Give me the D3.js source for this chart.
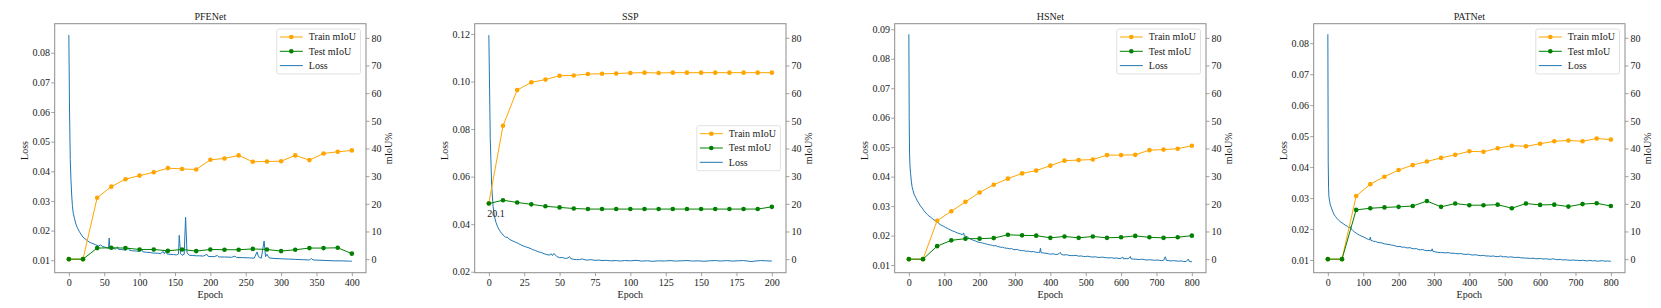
<!DOCTYPE html>
<html>
<head>
<meta charset="utf-8">
<script src="https://cdn.jsdelivr.net/npm/d3@7"></script>
<style>
  html, body { margin: 0; padding: 0; background: #fff; }
  svg { display: block; }
  text { font-family: "Liberation Serif", "Times New Roman", serif; fill: #1a1a1a; }
</style>
</head>
<body>
<div id="chart"></div>
<script>
// ---- data ----
const titles = ['PFENet', 'SSP', 'HSNet', 'PATNet'];
const seriesNames = ['Train mIoU', 'Test mIoU', 'Loss'];

// PFENet
const pfenetEpochs = [0, 20, 40, 60, 80, 100, 120, 140, 160, 180, 200, 220, 240, 260, 280, 300, 320, 340, 360, 380, 400];
const pfenetTrain = [0, 0, 22.2, 26.2, 28.9, 30.2, 31.4, 32.9, 32.6, 32.4, 35.9, 36.4, 37.5, 35.2, 35.3, 35.4, 37.5, 35.8, 38.2, 38.8, 39.3];
const pfenetTest = [0, 0, 4.0, 4.1, 4.0, 3.5, 3.5, 3.0, 3.5, 2.9, 3.5, 3.4, 3.4, 3.7, 3.5, 2.9, 3.4, 4.0, 4.0, 4.1, 2.0];
const pfenetLossEpochs = [0, 1, 2, 3, 4, 5, 6, 8, 10, 12, 15, 18, 20, 23, 26, 30, 34, 38, 42, 45, 47, 50, 54, 56, 57, 58, 62, 66, 69, 70, 75, 80, 84, 86, 90, 95, 100, 103, 105, 110, 115, 120, 125, 130, 133, 135, 137, 139, 143, 148, 152, 155, 156, 158, 160, 163, 165, 167, 170, 175, 180, 185, 190, 195, 197, 205, 210, 212, 220, 230, 235, 237, 245, 255, 262, 266, 268, 272, 276, 278, 280, 283, 290, 300, 310, 320, 330, 340, 343, 345, 355, 365, 375, 385, 395, 400];
const pfenetLoss = [0.0860, 0.0600, 0.0440, 0.0370, 0.0320, 0.0285, 0.0262, 0.0240, 0.0222, 0.0210, 0.0196, 0.0185, 0.0178, 0.0172, 0.0166, 0.0160, 0.0156, 0.0152, 0.0148, 0.0152, 0.0147, 0.0145, 0.0142, 0.0140, 0.0175, 0.0141, 0.0140, 0.0138, 0.0145, 0.0137, 0.0136, 0.0134, 0.0141, 0.0133, 0.0132, 0.0131, 0.0130, 0.0136, 0.0128, 0.0127, 0.0126, 0.0124, 0.0124, 0.0122, 0.0130, 0.0122, 0.0131, 0.0121, 0.0120, 0.0119, 0.0118, 0.0121, 0.0184, 0.0122, 0.0117, 0.0120, 0.0245, 0.0125, 0.0117, 0.0116, 0.0115, 0.0115, 0.0114, 0.0120, 0.0113, 0.0112, 0.0116, 0.0111, 0.0111, 0.0110, 0.0114, 0.0109, 0.0109, 0.0108, 0.0107, 0.0128, 0.0112, 0.0107, 0.0165, 0.0112, 0.0120, 0.0108, 0.0106, 0.0105, 0.0104, 0.0103, 0.0102, 0.0101, 0.0106, 0.0101, 0.0100, 0.0099, 0.0098, 0.0098, 0.0097, 0.0097];

// SSP
const sspEpochs = [0, 10, 20, 30, 40, 50, 60, 70, 80, 90, 100, 110, 120, 130, 140, 150, 160, 170, 180, 190, 200];
const sspTrain = [20.2, 48.2, 61.1, 63.9, 64.9, 66.3, 66.4, 66.9, 67.0, 67.1, 67.3, 67.4, 67.3, 67.4, 67.4, 67.4, 67.4, 67.4, 67.4, 67.4, 67.4];
const sspTest = [20.1, 21.3, 20.5, 19.8, 19.1, 18.7, 18.3, 18.1, 18.1, 18.1, 18.1, 18.1, 18.1, 18.1, 18.1, 18.1, 18.1, 18.1, 18.1, 18.1, 18.9];
const sspLossEpochs = [0, 1, 2, 3, 4, 5, 6, 7, 8, 9, 10, 11, 12, 13, 14, 15, 17, 19, 21, 23, 25, 27, 29, 31, 33, 35, 37, 39, 41, 43, 44, 45, 46, 48, 50, 52, 54, 56, 57, 58, 60, 62, 64, 66, 68, 70, 72, 75, 78, 80, 83, 86, 90, 93, 96, 100, 104, 108, 112, 116, 120, 124, 128, 132, 136, 140, 144, 148, 152, 156, 160, 164, 168, 172, 176, 180, 184, 186, 188, 192, 196, 200];
const sspLoss = [0.1195, 0.0760, 0.0560, 0.0475, 0.0432, 0.0408, 0.0392, 0.0380, 0.0370, 0.0362, 0.0355, 0.0350, 0.0344, 0.0346, 0.0339, 0.0335, 0.0329, 0.0324, 0.0318, 0.0312, 0.0307, 0.0303, 0.0299, 0.0293, 0.0289, 0.0284, 0.0281, 0.0276, 0.0272, 0.0270, 0.0276, 0.0268, 0.0277, 0.0264, 0.0259, 0.0260, 0.0256, 0.0258, 0.0264, 0.0255, 0.0252, 0.0251, 0.0251, 0.0254, 0.0250, 0.0249, 0.0251, 0.0248, 0.0249, 0.0247, 0.0248, 0.0246, 0.0247, 0.0245, 0.0247, 0.0246, 0.0248, 0.0245, 0.0246, 0.0244, 0.0246, 0.0245, 0.0247, 0.0245, 0.0246, 0.0247, 0.0245, 0.0246, 0.0244, 0.0246, 0.0247, 0.0245, 0.0247, 0.0245, 0.0246, 0.0247, 0.0244, 0.0243, 0.0245, 0.0247, 0.0246, 0.0245];

// HSNet
const hsnetEpochs = [0, 40, 80, 120, 160, 200, 240, 280, 320, 360, 400, 440, 480, 520, 560, 600, 640, 680, 720, 760, 800];
const hsnetTrain = [0, 0, 13.9, 17.3, 20.7, 24.1, 26.9, 29.1, 31.0, 32.0, 33.8, 35.6, 35.8, 36.0, 37.6, 37.6, 37.7, 39.4, 39.6, 39.9, 41.0];
const hsnetTest = [0, 0, 4.7, 6.8, 7.4, 7.4, 7.6, 8.8, 8.6, 8.5, 7.7, 8.2, 7.7, 8.2, 7.7, 7.9, 8.4, 7.9, 7.7, 7.9, 8.5];
const hsnetLossEpochs = [0, 1, 2, 3, 5, 7, 9, 12, 15, 19, 24, 28, 33, 38, 43, 48, 52, 57, 62, 66, 71, 76, 80, 85, 89, 94, 99, 104, 109, 113, 118, 123, 128, 132, 137, 142, 147, 151, 155, 156, 160, 165, 170, 175, 180, 185, 190, 193, 198, 203, 208, 213, 218, 222, 227, 231, 236, 241, 246, 250, 255, 260, 265, 270, 278, 285, 290, 295, 300, 307, 312, 318, 325, 330, 338, 345, 352, 360, 366, 370, 372, 374, 380, 388, 395, 400, 408, 414, 419, 425, 428, 431, 438, 446, 452, 459, 466, 472, 480, 487, 494, 500, 506, 513, 520, 527, 534, 541, 548, 555, 560, 566, 573, 580, 587, 594, 600, 605, 607, 614, 620, 626, 628, 635, 642, 648, 654, 660, 667, 674, 680, 688, 694, 701, 708, 715, 720, 725, 728, 735, 742, 748, 755, 762, 770, 777, 784, 790, 793, 800];
const hsnetLoss = [0.0883, 0.0600, 0.0480, 0.0440, 0.0410, 0.0385, 0.0366, 0.0352, 0.0340, 0.0330, 0.0318, 0.0310, 0.0300, 0.0293, 0.0284, 0.0277, 0.0272, 0.0266, 0.0262, 0.0258, 0.0253, 0.0250, 0.0246, 0.0241, 0.0237, 0.0234, 0.0231, 0.0227, 0.0225, 0.0222, 0.0219, 0.0216, 0.0214, 0.0212, 0.0209, 0.0207, 0.0205, 0.0203, 0.0209, 0.0201, 0.0198, 0.0196, 0.0191, 0.0188, 0.0185, 0.0183, 0.0181, 0.0179, 0.0177, 0.0176, 0.0175, 0.0173, 0.0172, 0.0170, 0.0169, 0.0168, 0.0167, 0.0165, 0.0166, 0.0163, 0.0162, 0.0160, 0.0161, 0.0158, 0.0157, 0.0155, 0.0156, 0.0153, 0.0152, 0.0153, 0.0150, 0.0149, 0.0149, 0.0147, 0.0147, 0.0145, 0.0146, 0.0143, 0.0143, 0.0143, 0.0157, 0.0142, 0.0141, 0.0140, 0.0138, 0.0137, 0.0138, 0.0136, 0.0136, 0.0139, 0.0143, 0.0136, 0.0134, 0.0135, 0.0133, 0.0132, 0.0132, 0.0133, 0.0130, 0.0131, 0.0129, 0.0129, 0.0130, 0.0128, 0.0127, 0.0128, 0.0126, 0.0126, 0.0127, 0.0125, 0.0125, 0.0124, 0.0125, 0.0123, 0.0124, 0.0122, 0.0123, 0.0127, 0.0121, 0.0122, 0.0121, 0.0129, 0.0121, 0.0120, 0.0120, 0.0119, 0.0119, 0.0120, 0.0118, 0.0117, 0.0118, 0.0117, 0.0116, 0.0117, 0.0116, 0.0115, 0.0116, 0.0128, 0.0116, 0.0115, 0.0114, 0.0115, 0.0114, 0.0113, 0.0114, 0.0112, 0.0112, 0.0120, 0.0112, 0.0111];

// PATNet
const patnetEpochs = [0, 40, 80, 120, 160, 200, 240, 280, 320, 360, 400, 440, 480, 520, 560, 600, 640, 680, 720, 760, 800];
const patnetTrain = [0, 0, 22.8, 27.1, 29.8, 32.2, 34.0, 35.3, 36.6, 37.7, 39.0, 38.8, 40.1, 41.0, 40.8, 41.7, 42.6, 42.9, 42.6, 43.6, 43.2];
const patnetTest = [0, 0, 17.8, 18.4, 18.7, 18.9, 19.2, 21.0, 18.9, 20.1, 19.5, 19.5, 19.7, 18.4, 20.1, 19.6, 19.7, 19.0, 19.9, 20.2, 19.2];
const patnetLossEpochs = [0, 1, 2, 3, 5, 7, 9, 12, 15, 18, 22, 26, 30, 35, 40, 45, 50, 55, 60, 64, 66, 70, 75, 80, 85, 90, 95, 100, 105, 110, 115, 118, 120, 122, 126, 130, 135, 140, 147, 153, 160, 167, 173, 180, 186, 192, 198, 204, 210, 215, 220, 226, 232, 238, 244, 250, 256, 262, 268, 274, 280, 286, 292, 295, 297, 304, 310, 318, 325, 332, 340, 347, 354, 361, 368, 375, 382, 390, 397, 404, 411, 418, 425, 432, 440, 447, 454, 461, 468, 475, 482, 489, 496, 503, 510, 517, 524, 531, 538, 545, 552, 559, 566, 573, 580, 587, 594, 601, 608, 615, 622, 629, 636, 643, 650, 657, 664, 671, 678, 685, 692, 699, 706, 713, 720, 727, 734, 741, 748, 755, 762, 769, 776, 783, 790, 797, 800];
const patnetLoss = [0.0829, 0.0420, 0.0335, 0.0305, 0.0290, 0.0278, 0.0272, 0.0262, 0.0254, 0.0246, 0.0240, 0.0234, 0.0229, 0.0224, 0.0220, 0.0216, 0.0212, 0.0209, 0.0204, 0.0207, 0.0200, 0.0196, 0.0191, 0.0187, 0.0183, 0.0180, 0.0177, 0.0175, 0.0172, 0.0169, 0.0166, 0.0165, 0.0174, 0.0163, 0.0162, 0.0160, 0.0160, 0.0157, 0.0156, 0.0155, 0.0152, 0.0151, 0.0150, 0.0148, 0.0147, 0.0145, 0.0143, 0.0144, 0.0141, 0.0142, 0.0140, 0.0139, 0.0140, 0.0137, 0.0136, 0.0137, 0.0134, 0.0133, 0.0134, 0.0131, 0.0130, 0.0131, 0.0129, 0.0136, 0.0128, 0.0126, 0.0125, 0.0124, 0.0124, 0.0123, 0.0124, 0.0122, 0.0122, 0.0121, 0.0120, 0.0121, 0.0119, 0.0118, 0.0119, 0.0117, 0.0116, 0.0117, 0.0115, 0.0114, 0.0115, 0.0113, 0.0113, 0.0112, 0.0113, 0.0111, 0.0111, 0.0113, 0.0110, 0.0111, 0.0109, 0.0110, 0.0109, 0.0108, 0.0109, 0.0107, 0.0107, 0.0106, 0.0106, 0.0105, 0.0106, 0.0104, 0.0104, 0.0105, 0.0103, 0.0104, 0.0103, 0.0102, 0.0104, 0.0102, 0.0101, 0.0102, 0.0100, 0.0101, 0.0100, 0.0099, 0.0100, 0.0099, 0.0099, 0.0098, 0.0099, 0.0098, 0.0097, 0.0099, 0.0097, 0.0098, 0.0096, 0.0097, 0.0098, 0.0096, 0.0097, 0.0096, 0.0096];

// axis limits and ticks
const epochTicks = [
  [0, 50, 100, 150, 200, 250, 300, 350, 400],
  [0, 25, 50, 75, 100, 125, 150, 175, 200],
  [0, 100, 200, 300, 400, 500, 600, 700, 800],
  [0, 100, 200, 300, 400, 500, 600, 700, 800]
];
const lossTicks = [
  [0.01, 0.02, 0.03, 0.04, 0.05, 0.06, 0.07, 0.08],
  [0.02, 0.04, 0.06, 0.08, 0.10, 0.12],
  [0.01, 0.02, 0.03, 0.04, 0.05, 0.06, 0.07, 0.08, 0.09],
  [0.01, 0.02, 0.03, 0.04, 0.05, 0.06, 0.07, 0.08]
];
const lossLimits = [[0.0058, 0.0898], [0.0196, 0.1243], [0.0074, 0.0919], [0.0059, 0.0863]];
const miouTicks = [0, 10, 20, 30, 40, 50, 60, 70, 80];
const miouLimits = [-4.9, 85.1];
const legendPlaces = ['upper right', 'center right', 'upper right', 'upper right'];
const annotations = [null, { epoch: 0, value: 20.1, label: '20.1' }, null, null];

const panels = [
  { epochs: pfenetEpochs, train: pfenetTrain, test: pfenetTest, lossEpochs: pfenetLossEpochs, loss: pfenetLoss },
  { epochs: sspEpochs, train: sspTrain, test: sspTest, lossEpochs: sspLossEpochs, loss: sspLoss },
  { epochs: hsnetEpochs, train: hsnetTrain, test: hsnetTest, lossEpochs: hsnetLossEpochs, loss: hsnetLoss },
  { epochs: patnetEpochs, train: patnetTrain, test: patnetTest, lossEpochs: patnetLossEpochs, loss: patnetLoss }
];

// ---- layout ----
const W = 1661, H = 308;
const offsets = [0, 420, 840, 1259];
const plotL = 54.7, plotR = 366, plotT = 23.7, plotB = 272.7;
const colors = { train: '#ffa500', test: '#008000', loss: '#1f77b4' };
const frameColor = '#8c8c8c';
const fontSize = 10;

const svg = d3.select('#chart').append('svg')
  .attr('width', W)
  .attr('height', H);

panels.forEach((p, i) => {
  const g = svg.append('g').attr('transform', 'translate(' + offsets[i] + ',0)');

  const ext = d3.extent(p.epochs);
  const pad = (ext[1] - ext[0]) * 0.05;
  const x = d3.scaleLinear().domain([ext[0] - pad, ext[1] + pad]).range([plotL, plotR]);
  const yL = d3.scaleLinear().domain(lossLimits[i]).range([plotB, plotT]);
  const yR = d3.scaleLinear().domain(miouLimits).range([plotB, plotT]);

  // Loss curve
  const lossLine = d3.line().x(d => x(d[0])).y(d => yL(d[1]));
  g.append('path')
    .datum(d3.zip(p.lossEpochs, p.loss))
    .attr('d', lossLine)
    .attr('fill', 'none')
    .attr('stroke', colors.loss)
    .attr('stroke-width', 1)
    .attr('stroke-linejoin', 'round');

  // mIoU curves
  const miouLine = d3.line().x(d => x(d[0])).y(d => yR(d[1]));
  [['train', p.train], ['test', p.test]].forEach(([key, vals]) => {
    const pts = d3.zip(p.epochs, vals);
    g.append('path')
      .datum(pts)
      .attr('d', miouLine)
      .attr('fill', 'none')
      .attr('stroke', colors[key])
      .attr('stroke-width', 1);
    g.append('g')
      .selectAll('circle')
      .data(pts)
      .join('circle')
      .attr('cx', d => x(d[0]))
      .attr('cy', d => yR(d[1]))
      .attr('r', 2.3)
      .attr('fill', colors[key]);
  });

  // annotation
  const ann = annotations[i];
  if (ann) {
    g.append('text')
      .attr('x', x(ann.epoch) - 1.6)
      .attr('y', yR(ann.value) + 13)
      .attr('font-size', fontSize + 'px')
      .text(ann.label);
  }

  // frame
  g.append('rect')
    .attr('x', plotL).attr('y', plotT)
    .attr('width', plotR - plotL).attr('height', plotB - plotT)
    .attr('fill', 'none')
    .attr('stroke', frameColor)
    .attr('stroke-width', 1);

  // axes
  const styleAxis = sel => {
    sel.select('.domain').remove();
    sel.selectAll('.tick line').attr('stroke', frameColor).attr('stroke-width', 0.8);
    sel.selectAll('.tick text')
      .attr('fill', '#1a1a1a')
      .style('font-family', '"Liberation Serif", "Times New Roman", serif')
      .style('font-size', fontSize + 'px');
  };
  g.append('g')
    .attr('transform', 'translate(0,' + plotB + ')')
    .call(d3.axisBottom(x).tickValues(epochTicks[i]).tickSize(3.5).tickPadding(2.3).tickFormat(d3.format('d')))
    .call(styleAxis);
  g.append('g')
    .attr('transform', 'translate(' + plotL + ',0)')
    .call(d3.axisLeft(yL).tickValues(lossTicks[i]).tickSize(3.5).tickPadding(1.3).tickFormat(d3.format('.2f')))
    .call(styleAxis);
  g.append('g')
    .attr('transform', 'translate(' + plotR + ',0)')
    .call(d3.axisRight(yR).tickValues(miouTicks).tickSize(3.5).tickPadding(2).tickFormat(d3.format('d')))
    .call(styleAxis);

  // labels
  const cx = (plotL + plotR) / 2;
  g.append('text')
    .attr('x', cx).attr('y', 20.2)
    .attr('text-anchor', 'middle')
    .attr('font-size', fontSize + 'px')
    .text(titles[i]);
  g.append('text')
    .attr('x', cx).attr('y', 297.6)
    .attr('text-anchor', 'middle')
    .attr('font-size', fontSize + 'px')
    .text('Epoch');
  g.append('text')
    .attr('transform', 'translate(27.8,150.5) rotate(-90)')
    .attr('text-anchor', 'middle')
    .attr('font-size', fontSize + 'px')
    .text('Loss');
  g.append('text')
    .attr('transform', 'translate(392.4,148.3) rotate(-90)')
    .attr('text-anchor', 'middle')
    .attr('font-size', fontSize + 'px')
    .text('mIoU%');

  // legend
  const lw = 83.7, lh = 45;
  const lx = plotR - 5.5 - lw;
  const ly = legendPlaces[i] === 'upper right' ? plotT + 5.3 : (plotT + plotB) / 2 - lh / 2;
  const lg = g.append('g').attr('transform', 'translate(' + lx + ',' + ly + ')');
  lg.append('rect')
    .attr('width', lw).attr('height', lh)
    .attr('rx', 2)
    .attr('fill', '#fff').attr('fill-opacity', 0.8)
    .attr('stroke', '#d4d4d4').attr('stroke-width', 0.7);
  const legendKeys = ['train', 'test', 'loss'];
  legendKeys.forEach((key, k) => {
    const yy = 8 + k * 14.3;
    lg.append('line')
      .attr('x1', 3).attr('x2', 26)
      .attr('y1', yy).attr('y2', yy)
      .attr('stroke', colors[key]).attr('stroke-width', 1);
    if (key !== 'loss') {
      lg.append('circle').attr('cx', 14.5).attr('cy', yy).attr('r', 2.3).attr('fill', colors[key]);
    }
    lg.append('text')
      .attr('x', 32).attr('y', yy)
      .attr('dy', '0.33em')
      .attr('font-size', fontSize + 'px')
      .text(seriesNames[k]);
  });
});
</script>
</body>
</html>
